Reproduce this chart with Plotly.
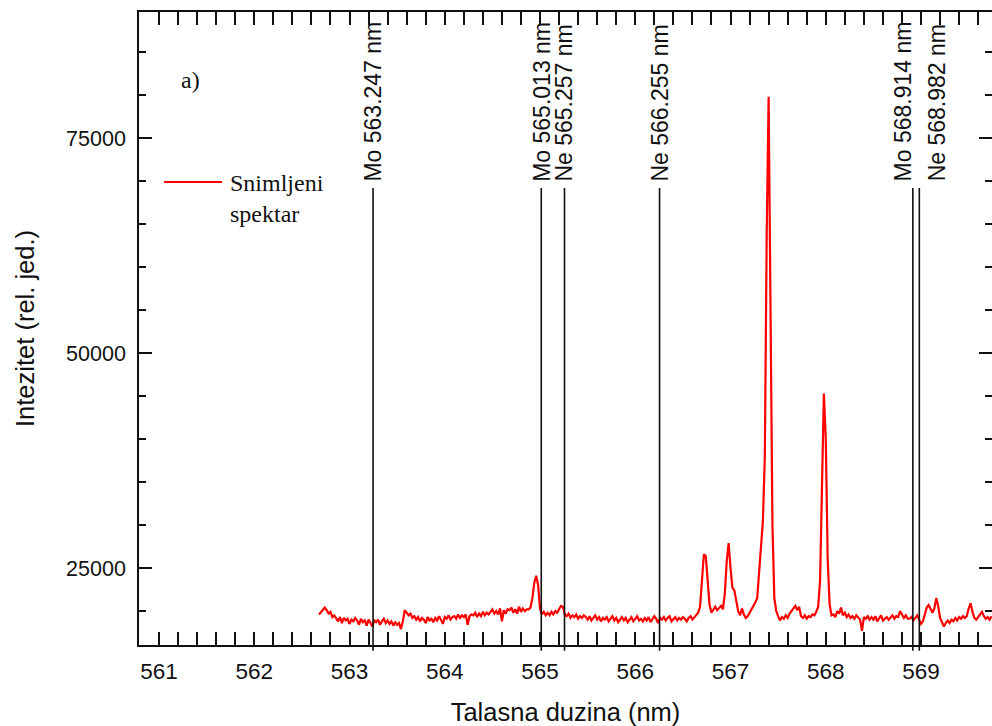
import numpy as np
import plotly.graph_objects as go

# Recorded spectrum: wavelength grid start/step (nm) and intensities (rel. units)
wl_start = 562.68
wl_step = 0.02

intensity = [
    19600, 19900, 20200, 20400, 20100, 19700, 19900, 19300, 19500, 19200,
    18800, 19300, 18600, 19200, 18900, 19100, 18500, 19000, 18800, 19200,
    18900, 18400, 19100, 18700, 18900, 18300, 19000, 18600, 18200, 18900,
    18700, 19000, 18400, 18800, 19100, 18600, 18900, 18500, 18800, 18300,
    18700, 18400, 18600, 17900, 18800, 20100, 19800, 19500, 19700, 19200,
    19400, 19000, 19300, 18800, 19200, 19000, 18600, 19300, 18900, 19100,
    18700, 19200, 18900, 19400, 19000, 18500, 19300, 19100, 19500, 19000,
    19300, 19400, 19100, 19600, 19200, 19500, 19300, 19600, 18400, 19400,
    19600, 19500, 19800, 19300, 19700, 19400, 19900, 19500, 19800, 19600,
    19900, 20200, 19700, 20000, 19600, 20300, 18800, 20100, 19700, 20200,
    20100, 20400, 19800, 20200, 19700, 20500, 19900, 20300, 20000, 20200,
    20200, 20400, 21500, 23300, 24100, 23000, 20300, 19600, 19900, 19500,
    19800, 19500, 19900, 19600, 20000, 19800, 20200, 20600, 20500, 19600,
    19400, 19700, 19200, 19500, 19300, 19600, 19100, 19400, 19200, 19500,
    19300, 19000, 19400, 18900, 19200, 19500, 19000, 19300, 18800, 19200,
    19000, 19300, 18800, 19100, 19400, 18900, 19200, 18700, 19000, 19300,
    18900, 19200, 18700, 19000, 19300, 18800, 19100, 19400, 18900, 19100,
    18800, 19200, 18900, 19300, 18700, 19000, 19400, 19100, 18600, 19200,
    19000, 19300, 18900, 19200, 19400, 18800, 19100, 19300, 18900, 19200,
    19000, 19300, 19100, 18800, 19200, 19400, 19000, 19300, 19500, 19800,
    20500, 23600, 26600, 26400, 23400, 20700, 19800, 20200, 20500, 20100,
    20300, 20600, 20200, 22000, 25800, 27900, 25000, 22700, 22400, 21200,
    20000, 19500, 20300, 19600, 19200, 19400, 19800, 20200, 20500, 21000,
    21500, 24500, 27800, 30500, 38000, 64000, 79800, 55000, 30000, 21500,
    20000, 19400, 18900, 19300, 19100, 19500, 19200, 19700, 20000, 20400,
    20600, 20100, 20500, 19400, 19200, 19500, 19100, 19400, 19300, 19600,
    19500, 19900, 20500, 23500, 37000, 45300, 40000, 26000, 20800, 19500,
    19600, 19300, 20000, 19700, 20400, 19500, 19800, 19300, 19600, 19200,
    19400, 19100, 19500, 19200, 19000, 17700, 19300, 19100, 19400, 19000,
    19300, 19000, 19400, 18800, 19200, 19500, 18900, 19100, 19300, 19000,
    19200, 19500, 19100, 19400, 19300, 20000, 19600, 19200, 19500, 19100,
    19100, 19300, 18900, 19200, 19500, 19000, 18500, 18800, 19600, 20400,
    20700, 20200, 19800, 20300, 21500, 20600, 19200, 18700, 18200, 18600,
    18900, 18600, 19000, 18800, 19200, 18900, 19300, 19100, 19400, 19200,
    19400, 20300, 20900, 19900, 19200, 19000, 19300, 19500, 19900, 19400,
    19100, 19300, 19000, 19400,
]

wavelength = np.round(wl_start + wl_step * np.arange(len(intensity)), 2)

# Reference emission lines (element, wavelength in nm)
line_elements = ["Mo", "Mo", "Ne", "Ne", "Mo", "Ne"]
line_wavelengths = [563.247, 565.013, 565.257, 566.255, 568.914, 568.982]
# horizontal nudges (px) so the two close labels near 569 nm don't collide
label_nudge = {568.914: -10, 568.982: 18}

x_range = [560.79, 569.745]
y_range = [16050, 89650]

SANS = "Liberation Sans, Arial, sans-serif"
SERIF = "Liberation Serif, Times New Roman, serif"
INK = "#111111"

fig = go.Figure()

fig.add_trace(go.Scatter(
    x=wavelength, y=intensity, mode="lines",
    line=dict(color="#ff0000", width=2.2),
    name="Snimljeni spektar", showlegend=False, hoverinfo="x+y",
))

# vertical markers for the tabulated lines, with rotated labels above them
for el, wl in zip(line_elements, line_wavelengths):
    fig.add_shape(type="line", xref="x", yref="paper",
                  x0=wl, x1=wl, y0=-0.009, y1=0.722,
                  line=dict(color=INK, width=1.6), layer="above")
    fig.add_annotation(x=wl, xref="x", y=0.729, yref="paper",
                       xshift=label_nudge.get(wl, 0),
                       text=f"{el} {wl:.3f} nm", textangle=-90,
                       xanchor="center", yanchor="bottom", showarrow=False,
                       font=dict(family=SANS, size=23, color=INK))

# panel tag and hand-placed legend entry
fig.add_annotation(x=0.06, y=0.893, xref="paper", yref="paper", text="a)",
                   showarrow=False, xanchor="center", yanchor="middle",
                   font=dict(family=SERIF, size=24, color=INK))
fig.add_shape(type="line", xref="paper", yref="paper",
              x0=0.0293, x1=0.0973, y0=0.7314, y1=0.7314,
              line=dict(color="#ff0000", width=2))
fig.add_annotation(x=0.1043, y=0.706, xref="paper", yref="paper",
                   text="Snimljeni<br>spektar", showarrow=False,
                   xanchor="left", yanchor="middle", align="left",
                   font=dict(family=SERIF, size=24, color=INK))

axis_common = dict(
    showgrid=False, zeroline=False,
    ticks="inside", tickwidth=1.5, tickcolor=INK,
)

fig.update_layout(
    width=992, height=726,
    margin=dict(l=139, r=0, t=12, b=81),
    paper_bgcolor="white", plot_bgcolor="white",
    showlegend=False,
    xaxis=dict(
        range=x_range, dtick=1, tick0=561, ticklen=13, ticklabelstandoff=5,
        tickfont=dict(family=SANS, size=22.5, color=INK),
        minor=dict(dtick=0.2, ticklen=6, ticks="inside", tickwidth=1.5, tickcolor=INK),
        showline=True, linecolor=INK, linewidth=1.6, mirror="allticks",
        title=dict(text="Talasna duzina (nm)", standoff=21,
                   font=dict(family=SANS, size=25.5, color=INK)),
        **axis_common,
    ),
    yaxis=dict(
        range=y_range, dtick=25000, tick0=0, ticklen=13, tickformat="d",
        ticklabelstandoff=7,
        tickfont=dict(family=SANS, size=21.5, color=INK),
        minor=dict(dtick=5000, ticklen=7, ticks="inside", tickwidth=1.5, tickcolor=INK),
        showline=True, linecolor=INK, linewidth=1.6, mirror=False,
        title=dict(text="Intezitet (rel. jed.)", standoff=24,
                   font=dict(family=SANS, size=25.5, color=INK)),
        **axis_common,
    ),
    yaxis2=dict(
        range=y_range, dtick=25000, tick0=0, ticklen=13,
        minor=dict(dtick=5000, ticklen=7, ticks="inside", tickwidth=1.5, tickcolor=INK),
        overlaying="y", side="right", anchor="x",
        showline=False, showticklabels=False,
        **axis_common,
    ),
)

# empty trace so the right-hand tick axis is drawn
fig.add_trace(go.Scatter(x=[None], y=[None], yaxis="y2", showlegend=False,
                         hoverinfo="skip"))

fig.write_html("out.html")
